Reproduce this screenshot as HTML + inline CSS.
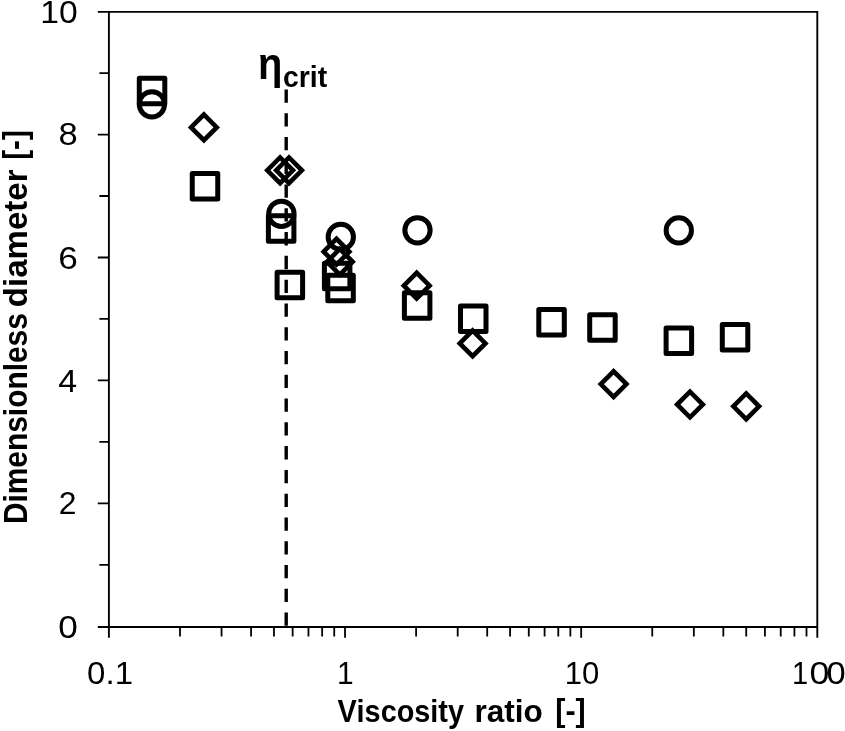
<!DOCTYPE html>
<html><head><meta charset="utf-8"><title>Chart</title>
<style>html,body{margin:0;padding:0;background:#fff}svg{display:block}</style></head>
<body>
<svg width="845" height="731" viewBox="0 0 845 731">
<rect width="845" height="731" fill="#fff"/>
<g stroke="#000" stroke-width="1.9" fill="none">
<path d="M97.80 11.85H817.3V637.8"/>
<path d="M108.9 11.85V637.8"/>
<path d="M97.80 627.0H817.3"/>
</g>
<g stroke="#000" stroke-width="1.8" fill="none">
<path d="M99.40 564.83H108.9M97.80 503.36H108.9M99.40 441.89H108.9M97.80 380.42H108.9M99.40 318.95H108.9M97.80 257.48H108.9M99.40 196.01H108.9M97.80 134.54H108.9M99.40 73.07H108.9"/>
<path d="M179.98 627.0V636.5M221.56 627.0V636.5M251.07 627.0V636.5M273.95 627.0V636.5M292.65 627.0V636.5M308.46 627.0V636.5M322.15 627.0V636.5M334.23 627.0V636.5M345.03 627.0V637.8M416.12 627.0V636.5M457.70 627.0V636.5M487.20 627.0V636.5M510.08 627.0V636.5M528.78 627.0V636.5M544.59 627.0V636.5M558.28 627.0V636.5M570.36 627.0V636.5M581.17 627.0V637.8M652.25 627.0V636.5M693.83 627.0V636.5M723.33 627.0V636.5M746.22 627.0V636.5M764.91 627.0V636.5M780.72 627.0V636.5M794.42 627.0V636.5M806.50 627.0V636.5"/>
</g>
<path d="M286.2 89.4V627.0" stroke="#000" stroke-width="3.4" stroke-dasharray="13.3 10.48" fill="none"/>
<g stroke="#000" stroke-width="5.0" fill="none" stroke-linejoin="round">
<path d="M191.05 127.4L203.9 114.55L216.75 127.4L203.9 140.25Z" stroke-linejoin="miter" stroke-width="4.6"/>
<path d="M267.25 170.3L280.1 157.45L292.95 170.3L280.1 183.15Z" stroke-linejoin="miter" stroke-width="4.6"/>
<path d="M276.15 170.3L289.0 157.45L301.85 170.3L289.0 183.15Z" stroke-linejoin="miter" stroke-width="4.6"/>
<path d="M323.65 251.7L336.5 238.85L349.35 251.7L336.5 264.55Z" stroke-linejoin="miter" stroke-width="4.6"/>
<path d="M326.95 261.8L339.8 248.95L352.65 261.8L339.8 274.65Z" stroke-linejoin="miter" stroke-width="4.6"/>
<path d="M403.85 285.7L416.7 272.85L429.55 285.7L416.7 298.55Z" stroke-linejoin="miter" stroke-width="4.6"/>
<path d="M459.75 343.4L472.6 330.55L485.45 343.4L472.6 356.25Z" stroke-linejoin="miter" stroke-width="4.6"/>
<path d="M600.75 384.1L613.6 371.25L626.45 384.1L613.6 396.95Z" stroke-linejoin="miter" stroke-width="4.6"/>
<path d="M677.15 404.5L690.0 391.65L702.85 404.5L690.0 417.35Z" stroke-linejoin="miter" stroke-width="4.6"/>
<path d="M733.35 406.3L746.2 393.45L759.05 406.3L746.2 419.15Z" stroke-linejoin="miter" stroke-width="4.6"/>
<rect x="139.30" y="78.35" width="25.5" height="25.5"/>
<rect x="192.25" y="173.50" width="25.5" height="25.5"/>
<rect x="268.40" y="215.75" width="25.5" height="25.5"/>
<rect x="277.10" y="272.25" width="25.5" height="25.5"/>
<rect x="324.40" y="263.15" width="25.5" height="25.5"/>
<rect x="327.80" y="275.25" width="25.5" height="25.5"/>
<rect x="404.40" y="292.65" width="25.5" height="25.5"/>
<rect x="460.50" y="306.05" width="25.5" height="25.5"/>
<rect x="538.80" y="309.45" width="25.5" height="25.5"/>
<rect x="589.70" y="314.75" width="25.5" height="25.5"/>
<rect x="666.10" y="328.05" width="25.5" height="25.5"/>
<rect x="722.30" y="324.55" width="25.5" height="25.5"/>
<circle cx="151.9" cy="104.3" r="12.65"/>
<circle cx="281.4" cy="213.8" r="12.65"/>
<circle cx="340.8" cy="236.9" r="12.65"/>
<circle cx="417.5" cy="230.3" r="12.65"/>
<circle cx="678.8" cy="230.4" r="12.65"/>
</g>
<g font-family="Liberation Sans, sans-serif" fill="#000" style="font-kerning:none">
<text x="58.23" y="638.10" font-size="31.3" textLength="19.55" lengthAdjust="spacingAndGlyphs">0</text>
<text x="58.70" y="514.46" font-size="31.3" textLength="17.70" lengthAdjust="spacingAndGlyphs">2</text>
<text x="58.32" y="391.52" font-size="31.3" textLength="18.87" lengthAdjust="spacingAndGlyphs">4</text>
<text x="58.22" y="268.58" font-size="31.3" textLength="19.53" lengthAdjust="spacingAndGlyphs">6</text>
<text x="58.50" y="145.14" font-size="31.3" textLength="19.20" lengthAdjust="spacingAndGlyphs">8</text>
<text x="40.23" y="22.95" font-size="31.3" textLength="37.48" lengthAdjust="spacingAndGlyphs">10</text>
<text x="87.11" y="683.50" font-size="31.3" textLength="45.90" lengthAdjust="spacingAndGlyphs">0.1</text>
<text x="337.12" y="683.50" font-size="31.3" textLength="16.64" lengthAdjust="spacingAndGlyphs">1</text>
<text x="564.73" y="683.50" font-size="31.3" textLength="34.58" lengthAdjust="spacingAndGlyphs">10</text>
<text x="791.89" y="683.50" font-size="31.3" textLength="16.12" lengthAdjust="spacingAndGlyphs">1</text>
<text x="809.50" y="683.50" font-size="31.3" textLength="19.89" lengthAdjust="spacingAndGlyphs">0</text>
<text x="826.45" y="683.50" font-size="31.3" textLength="19.20" lengthAdjust="spacingAndGlyphs">0</text>
</g>
<g font-family="Liberation Sans, sans-serif" font-weight="bold" fill="#000" style="font-kerning:none">
<text x="337.40" y="722.40" font-size="31.5" textLength="126.55" lengthAdjust="spacingAndGlyphs">Viscosity</text>
<text x="474.42" y="722.40" font-size="31.5" textLength="68.31" lengthAdjust="spacingAndGlyphs">ratio</text>
<text x="555.28" y="721.00" font-size="32" textLength="30.53" lengthAdjust="spacingAndGlyphs">[-]</text>
<g transform="translate(26.6 0) rotate(-90)">
<text x="-524.10" y="0.00" font-size="32.8" textLength="210.92" lengthAdjust="spacingAndGlyphs">Dimensionless</text>
<text x="-307.15" y="0.00" font-size="32.8" textLength="137.65" lengthAdjust="spacingAndGlyphs">diameter</text>
<text x="-159.77" y="-0.80" font-size="32.8" textLength="29.63" lengthAdjust="spacingAndGlyphs">[-]</text>
</g>
<text x="257.92" y="78.80" font-size="44.5" textLength="24.36" lengthAdjust="spacingAndGlyphs">η</text>
<text x="282.94" y="87.20" font-size="28.7" textLength="44.21" lengthAdjust="spacingAndGlyphs">crit</text>
</g>
</svg>
</body></html>
